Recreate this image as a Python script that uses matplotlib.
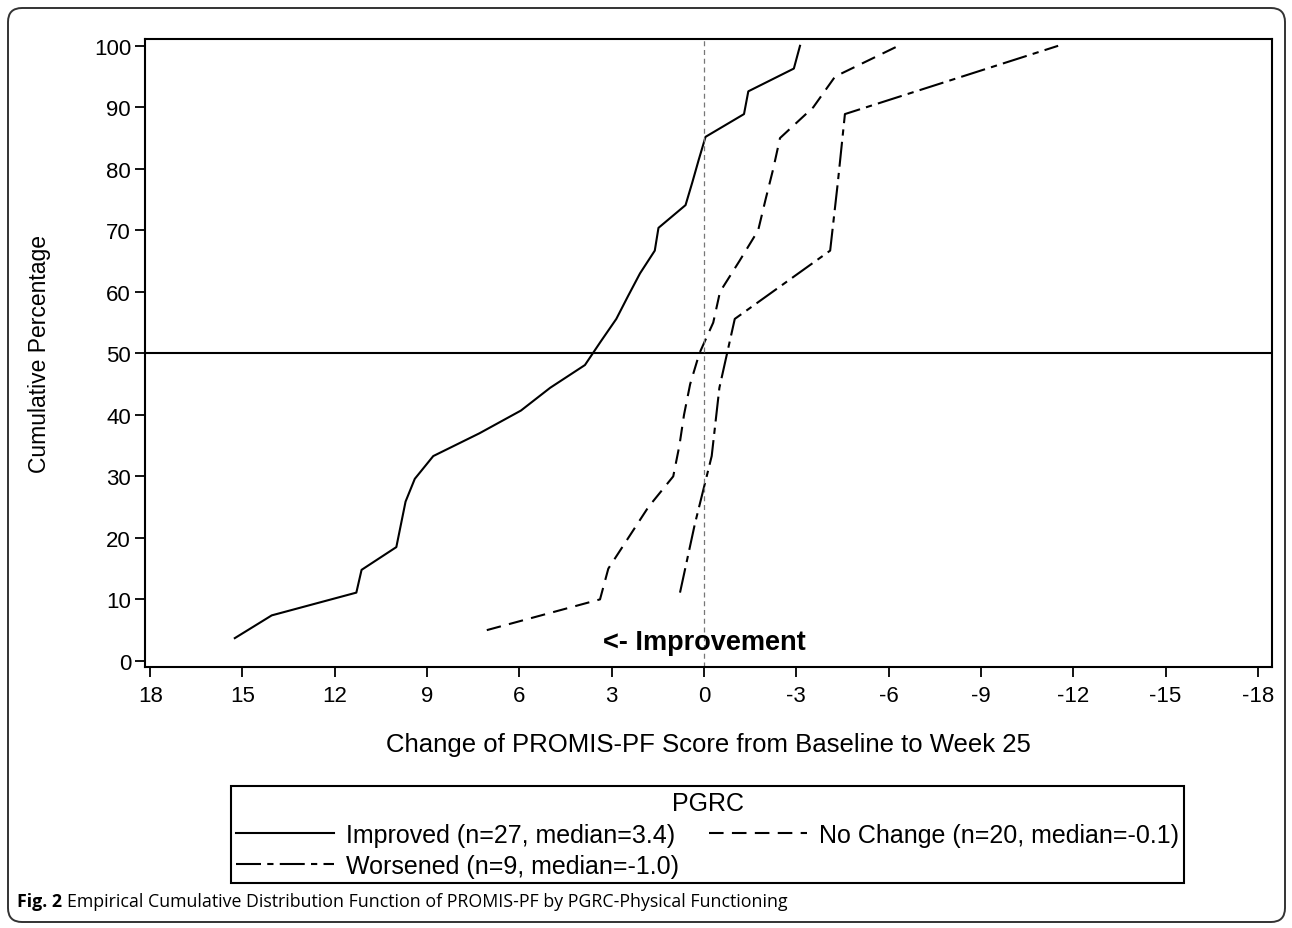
import matplotlib as mpl
mpl.use('Agg')
import matplotlib.pyplot as plt
from matplotlib.patches import FancyBboxPatch

# Improved (n=27) : change score, cumulative %
improved_x = [15.25, 14.05, 11.3, 11.13, 10.0, 9.85, 9.7, 9.4, 8.8, 7.3, 5.95, 5.0, 3.87, 3.36,
              2.85, 2.47, 2.08, 1.6, 1.48, 0.6, 0.38, 0.17, -0.05, -1.3, -1.44, -2.92, -3.12]
improved_pct = [3.7, 7.4, 11.1, 14.8, 18.5, 22.2, 25.9, 29.6, 33.3, 37.0, 40.7, 44.4, 48.1, 51.9,
                55.6, 59.3, 63.0, 66.7, 70.4, 74.1, 77.8, 81.5, 85.2, 88.9, 92.6, 96.3, 100.0]

# No Change (n=20)
nochange_x = [7.06, 3.38, 3.11, 2.46, 1.81, 1.0, 0.8, 0.65, 0.45, 0.15,
              -0.3, -0.52, -1.15, -1.76, -2.0, -2.25, -2.47, -3.55, -4.26, -6.32]
nochange_pct = [5, 10, 15, 20, 25, 30, 35, 40, 45, 50,
                55, 60, 65, 70, 75, 80, 85, 90, 95, 100]

# Worsened (n=9)
worsened_x = [0.78, 0.3, -0.25, -0.5, -1.0, -4.1, -4.35, -4.58, -11.51]
worsened_pct = [11.1, 22.2, 33.3, 44.4, 55.6, 66.7, 77.8, 88.9, 100.0]

groupes = ['Improved (n=27, median=3.4)', 'No Change (n=20, median=-0.1)',
           'Worsened (n=9, median=-1.0)']

x_ticks = [18, 15, 12, 9, 6, 3, 0, -3, -6, -9, -12, -15, -18]
x_labels = ['18', '15', '12', '9', '6', '3', '0', '-3', '-6', '-9', '-12', '-15', '-18']
y_ticks = [0, 10, 20, 30, 40, 50, 60, 70, 80, 90, 100]

plt.rcParams['font.family'] = ['Liberation Sans', 'DejaVu Sans']
plt.rcParams['axes.unicode_minus'] = False

fig = plt.figure(figsize=(12.92, 9.29), dpi=100)
ax = fig.add_axes([0.1122, 0.2809, 0.8723, 0.676])

# Les courbes
l1, = ax.plot(improved_x, improved_pct, color='black', lw=1.5, ls='-')
l2, = ax.plot(nochange_x, nochange_pct, color='black', lw=1.5, dashes=(7, 4))
l3, = ax.plot(worsened_x, worsened_pct, color='black', lw=1.5, dashes=(12, 3, 3, 3))

# Lignes de reference
ax.axhline(50, color='black', lw=1.5)
ax.axvline(0, color='#777777', lw=0.9, dashes=(4, 3))
ax.text(0, 3.1, '<- Improvement', ha='center', va='center', fontsize=19.5, fontweight='bold')

ax.set_xlim(18.17, -18.46)
ax.set_ylim(-1, 101.1)
ax.set_xticks(x_ticks)
ax.set_xticklabels(x_labels)
ax.set_yticks(y_ticks)
ax.tick_params(direction='out', length=7, width=1.3, labelsize=16, color='black')
ax.tick_params(axis='x', pad=6)
ax.tick_params(axis='y', pad=3)
for s in ax.spines.values():
    s.set_linewidth(1.5)

ax.set_xlabel('Change of PROMIS-PF Score from Baseline to Week 25', fontsize=18.5)
ax.xaxis.set_label_coords(0.5, -0.1035)
ax.set_ylabel('Cumulative Percentage', fontsize=16.5)
ax.yaxis.set_label_coords(-0.083, 0.5)

# Legende
leg = fig.legend([l1, l3, l2], [groupes[0], groupes[2], groupes[1]], ncol=2,
                 title='PGRC', title_fontsize=18, fontsize=18,
                 loc='upper center', bbox_to_anchor=(707.5 / 1292, 1 - 787 / 929),
                 frameon=True, fancybox=False, edgecolor='black', framealpha=1,
                 handlelength=3.9, handletextpad=0.5, columnspacing=1.2,
                 labelspacing=0.3, borderpad=0.2, borderaxespad=0)
leg.get_frame().set_linewidth(1.5)

# Cadre arrondi
cadre = FancyBboxPatch((0.08, 0.06), 12.77, 9.14, boxstyle='round,pad=0,rounding_size=0.14',
                       transform=fig.dpi_scale_trans, facecolor='none', edgecolor='#333333', lw=1.4)
fig.add_artist(cadre)

# Legende de la figure
t1 = fig.text(17 / 1292, 1 - 902 / 929, 'Fig. 2', fontsize=12.8, fontweight='bold',
              family=['Open Sans', 'DejaVu Sans'], va='center', ha='left')
fig.canvas.draw()
bb = t1.get_window_extent(renderer=fig.canvas.get_renderer())
fig.text((bb.x1 + 5) / 1292, 1 - 902 / 929,
         'Empirical Cumulative Distribution Function of PROMIS-PF by PGRC-Physical Functioning',
         fontsize=12.8, family=['Open Sans', 'DejaVu Sans'], va='center', ha='left')

fig.savefig('out.png', dpi=100)
